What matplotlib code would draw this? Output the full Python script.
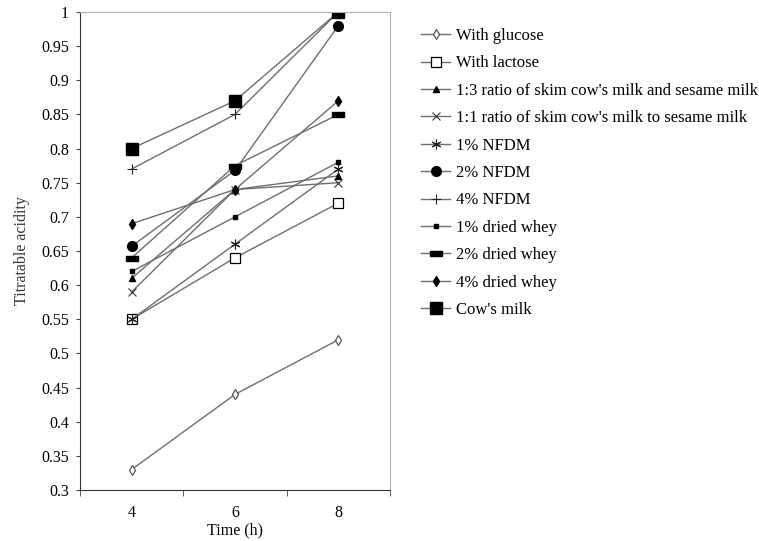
import matplotlib
matplotlib.use("Agg")
import matplotlib.pyplot as plt
from matplotlib.ticker import FixedLocator, FuncFormatter

plt.rcParams['font.family'] = ['Liberation Serif', 'DejaVu Serif']

times = [4, 6, 8]
series_names = [
    "With glucose",
    "With lactose",
    "1:3 ratio of skim cow's milk and sesame milk",
    "1:1 ratio of skim cow's milk to sesame milk",
    "1% NFDM",
    "2% NFDM",
    "4% NFDM",
    "1% dried whey",
    "2% dried whey",
    "4% dried whey",
    "Cow's milk",
]
glucose = [0.33, 0.44, 0.52]
lactose = [0.55, 0.64, 0.72]
ratio_1_3 = [0.61, 0.74, 0.76]
ratio_1_1 = [0.59, 0.74, 0.75]
nfdm_1 = [0.55, 0.66, 0.77]
nfdm_2 = [0.657, 0.768, 0.98]
nfdm_4 = [0.77, 0.85, 1.0]
whey_1 = [0.62, 0.70, 0.78]
whey_2 = [0.64, 0.775, 0.85]
whey_4 = [0.69, 0.74, 0.87]
cows_milk = [0.80, 0.87, 1.0]
series_values = [glucose, lactose, ratio_1_3, ratio_1_1, nfdm_1, nfdm_2,
                 nfdm_4, whey_1, whey_2, whey_4, cows_milk]
y_ticks = [0.3, 0.35, 0.4, 0.45, 0.5, 0.55, 0.6, 0.65, 0.7, 0.75, 0.8,
           0.85, 0.9, 0.95, 1.0]

dash_marker = [(-1, -0.45), (1, -0.45), (1, 0.45), (-1, 0.45), (-1, -0.45)]
styles = [
    dict(marker='d', ms=5.5, mfc='white', mec='#555555', mew=0.9),
    dict(marker='s', ms=7, mfc='white', mec='black', mew=0.9),
    dict(marker='^', ms=5, mfc='black', mec='black'),
    dict(marker='x', ms=6, mfc='none', mec='#333333', mew=0.8),
    dict(marker=(6, 2, 0), ms=7, mfc='none', mec='#222222', mew=0.8),
    dict(marker='o', ms=7, mfc='black', mec='black'),
    dict(marker='+', ms=7, mfc='none', mec='#222222', mew=0.8),
    dict(marker='s', ms=3.5, mfc='black', mec='black'),
    dict(marker=dash_marker, ms=8, mfc='black', mec='black'),
    dict(marker='d', ms=5.5, mfc='black', mec='black'),
    dict(marker='s', ms=8, mfc='black', mec='black'),
]

fig = plt.figure(figsize=(7.59, 5.41), dpi=100)
ax = fig.add_axes([80/759, 51/541, 310/759, 478/541])

handles = []
for name, vals, st in zip(series_names, series_values, styles):
    h, = ax.plot(times, vals, color='#6e6e6e', lw=1.0, label=name, **st)
    handles.append(h)

ax.set_xlim(3, 9)
ax.set_ylim(0.3, 1.0)
ax.xaxis.set_major_locator(FixedLocator(times))
ax.xaxis.set_minor_locator(FixedLocator([3, 5, 7, 9]))
ax.tick_params(axis='x', which='major', length=0, pad=11, labelsize=11.5)
ax.tick_params(axis='x', which='minor', length=4, direction='out', color='#444444')
ax.yaxis.set_major_locator(FixedLocator(y_ticks))
ax.yaxis.set_major_formatter(FuncFormatter(lambda v, p: f"{v:g}"))
ax.tick_params(axis='y', length=3, direction='out', pad=5, labelsize=11.5, color='#444444')

for s in ['top', 'right']:
    ax.spines[s].set_color('#b0b0b0')
for s in ['left', 'bottom']:
    ax.spines[s].set_color('#333333')

ax.set_xlabel("Time (h)", fontsize=11.5, labelpad=1)
ax.set_ylabel("Titratable acidity", fontsize=11.5, color='#333333', labelpad=8)

fig.legend(handles=handles, loc='upper left', bbox_to_anchor=(421/759, 1 - 28/541),
           frameon=False, fontsize=12, handlelength=1.75, handletextpad=0.35,
           labelspacing=0.685, borderaxespad=0, borderpad=0)

fig.savefig("out.png", dpi=100)
